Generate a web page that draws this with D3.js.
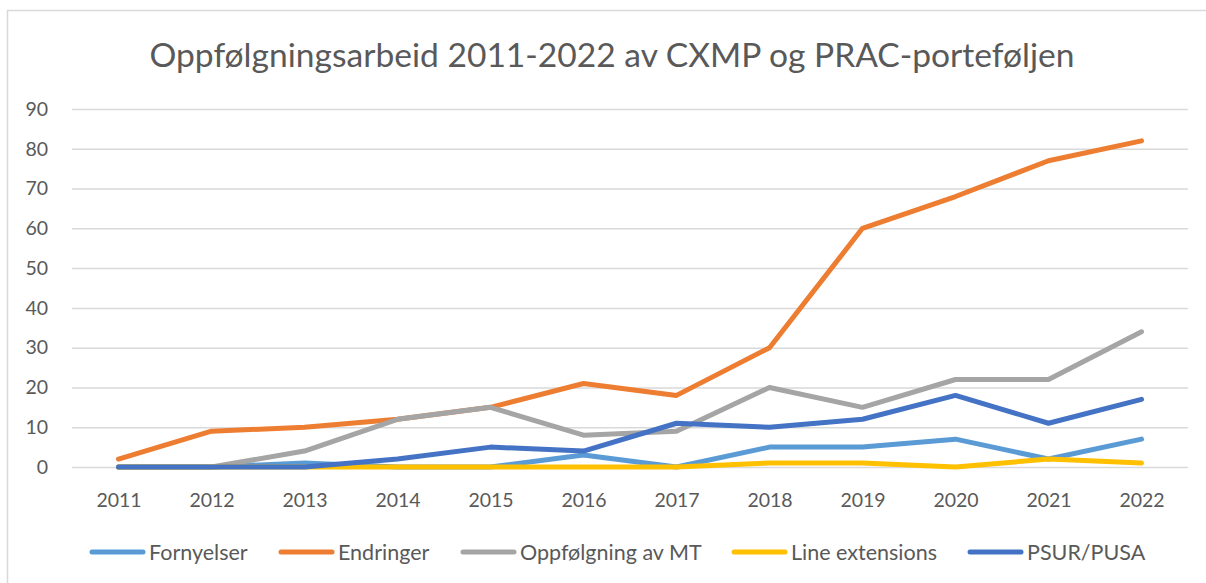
<!DOCTYPE html>
<html>
<head>
<meta charset="utf-8">
<script src="https://cdn.jsdelivr.net/npm/d3@7"></script>
<style>
  body { margin: 0; background: #fff; overflow: hidden; }
  text { font-family: Lato, "Open Sans", sans-serif; fill: #595959; }
</style>
</head>
<body>
<svg id="chart"></svg>
<script>
const years = ["2011", "2012", "2013", "2014", "2015", "2016", "2017", "2018", "2019", "2020", "2021", "2022"];
const fornyelser = [0, 0, 1, 0, 0, 3, 0, 5, 5, 7, 2, 7];
const endringer = [2, 9, 10, 12, 15, 21, 18, 30, 60, 68, 77, 82];
const oppfolgning = [0, 0, 4, 12, 15, 8, 9, 20, 15, 22, 22, 34];
const lineExtensions = [0, 0, 0, 0, 0, 0, 0, 1, 1, 0, 2, 1];
const psur = [0, 0, 0, 2, 5, 4, 11, 10, 12, 18, 11, 17];
const seriesNames = ["Fornyelser", "Endringer", "Oppfølgning av MT", "Line extensions", "PSUR/PUSA"];
const yTicks = [0, 10, 20, 30, 40, 50, 60, 70, 80, 90];

const series = [
  { name: seriesNames[0], values: fornyelser, color: "#5B9BD5" },
  { name: seriesNames[1], values: endringer, color: "#ED7D31" },
  { name: seriesNames[2], values: oppfolgning, color: "#A5A5A5" },
  { name: seriesNames[3], values: lineExtensions, color: "#FFC000" },
  { name: seriesNames[4], values: psur, color: "#4472C4" }
];

const width = 1206;
const height = 583;
const plotLeft = 72;
const plotRight = 1188;
const plotTop = 109;
const plotBottom = 467;

const svg = d3.select("#chart")
  .attr("width", width)
  .attr("height", height);

// chart frame (only top and left edges are in view)
svg.append("rect")
  .attr("x", 7.5).attr("y", 10.5)
  .attr("width", 1220).attr("height", 600)
  .attr("fill", "#fff")
  .attr("stroke", "#D9D9D9")
  .attr("stroke-width", 1.5);

// title
svg.append("text")
  .attr("x", 612).attr("y", 67)
  .attr("text-anchor", "middle")
  .style("font-size", "33.6px")
  .text("Oppfølgningsarbeid 2011-2022 av CXMP og PRAC-porteføljen");

const xScale = d3.scalePoint()
  .domain(years)
  .range([plotLeft, plotRight])
  .padding(0.5);

const yScale = d3.scaleLinear()
  .domain([0, 90])
  .range([plotBottom, plotTop]);

// gridlines + y labels
const yAxis = d3.axisLeft(yScale)
  .tickValues(yTicks)
  .tickSize(-(plotRight - plotLeft))
  .tickPadding(24);
svg.append("g")
  .attr("transform", `translate(${plotLeft},0)`)
  .call(yAxis)
  .call(g => g.select(".domain").remove())
  .call(g => g.selectAll(".tick line").attr("stroke", "#D9D9D9").attr("stroke-width", 1.5))
  .call(g => g.selectAll(".tick text").style("font-size", "19.5px").attr("fill", "#595959"));

// x labels
const xAxis = d3.axisBottom(xScale).tickSize(0).tickPadding(26);
svg.append("g")
  .attr("transform", `translate(0,${plotBottom})`)
  .call(xAxis)
  .call(g => g.select(".domain").remove())
  .call(g => g.selectAll(".tick text").style("font-size", "19.5px").attr("fill", "#595959"));

const line = d3.line()
  .x((d, i) => xScale(years[i]))
  .y(d => yScale(d));

svg.append("g").selectAll("path")
  .data(series)
  .enter()
  .append("path")
  .attr("d", d => line(d.values))
  .attr("fill", "none")
  .attr("stroke", d => d.color)
  .attr("stroke-width", 5)
  .attr("stroke-linejoin", "round")
  .attr("stroke-linecap", "round");

// legend
const legendX = [92, 281, 463, 734, 970];
const legend = svg.append("g").selectAll("g")
  .data(series)
  .enter()
  .append("g")
  .attr("transform", (d, i) => `translate(${legendX[i]},552)`);
legend.append("line")
  .attr("x1", 0).attr("x2", 51)
  .attr("stroke", d => d.color)
  .attr("stroke-width", 5)
  .attr("stroke-linecap", "round");
legend.append("text")
  .attr("x", 57).attr("dy", "0.35em")
  .style("font-size", "21.5px")
  .text(d => d.name);
</script>
</body>
</html>
